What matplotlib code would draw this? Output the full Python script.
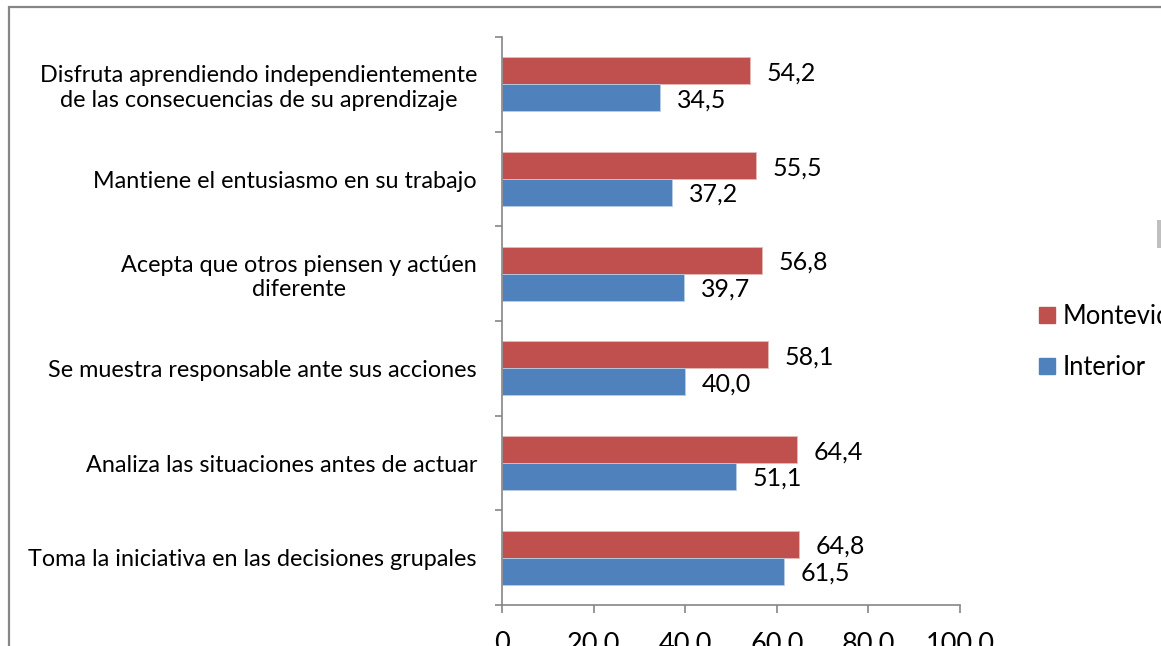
import numpy as np
import matplotlib.pyplot as plt
from matplotlib.patches import Rectangle, Patch

plt.rcParams['font.family'] = ['Lato', 'DejaVu Sans']

# categories top to bottom
categorias = [
    "Disfruta aprendiendo independientemente\nde las consecuencias de su aprendizaje",
    "Mantiene el entusiasmo en su trabajo",
    "Acepta que otros piensen y actúen\ndiferente",
    "Se muestra responsable ante sus acciones",
    "Analiza las situaciones antes de actuar",
    "Toma la iniciativa en las decisiones grupales",
]
montevideo = [54.2, 55.5, 56.8, 58.1, 64.4, 64.8]
interior = [34.5, 37.2, 39.7, 40.0, 51.1, 61.5]
xticks = [0, 20, 40, 60, 80, 100]
xtick_labels = ["0", "20,0", "40,0", "60,0", "80,0", "100,0"]

rojo = "#C0504D"
azul = "#4F81BD"
gris = "#868686"

fig = plt.figure(figsize=(11.61, 6.46), dpi=100)
ax = fig.add_axes([502 / 1161, 1 - 605 / 646, 458 / 1161, 568 / 646])

n = len(categorias)
y = np.arange(n)
h = 0.285
b1 = ax.barh(y - h / 2, montevideo, height=h, color=rojo, edgecolor="#E6B9B8", linewidth=0.6)
b2 = ax.barh(y + h / 2, interior, height=h, color=azul, edgecolor="#B9CDE5", linewidth=0.6)

def fmt(v):
    return f"{v:.1f}".replace(".", ",")

for bars, vals in ((b1, montevideo), (b2, interior)):
    for r, v in zip(bars, vals):
        ax.annotate(fmt(v), (v, r.get_y() + r.get_height() / 2),
                    xytext=(12, -1.5), textcoords="offset points",
                    ha="left", va="center", fontsize=18, color="black")

ax.set_xlim(0, 100)
ax.set_ylim(n - 0.5, -0.5)

ax.set_xticks(xticks)
ax.set_xticklabels(xtick_labels, fontsize=19.5)
ax.tick_params(axis="x", length=6, width=1.2, color=gris, pad=13)

ax.set_yticks(np.arange(n + 1) - 0.5)
ax.set_yticklabels([])
ax.tick_params(axis="y", which="major", length=5, width=1.2, color=gris)
ax.set_yticks(y, minor=True)
ax.set_yticklabels(categorias, minor=True, fontsize=16.8, multialignment="center")
ax.tick_params(axis="y", which="minor", length=0, pad=18)

for s in ("top", "right"):
    ax.spines[s].set_visible(False)
for s in ("left", "bottom"):
    ax.spines[s].set_color(gris)
    ax.spines[s].set_linewidth(1.2)

handles = [Patch(color=rojo), Patch(color=azul)]
fig.legend(handles, ["Montevideo", "Interior"], loc="center left",
           bbox_to_anchor=(1029 / 1161, 1 - 342 / 646), frameon=False,
           fontsize=18.4, handlelength=0.6, handleheight=0.6,
           handletextpad=0.3, labelspacing=1.0, borderaxespad=0)

# outer chart frame (cut by image edge)
fig.patches.append(Rectangle((8.5 / 1161, -0.2), 1.5, 1.2 - 6.5 / 646,
                             transform=fig.transFigure, fill=False,
                             edgecolor=gris, linewidth=1.6))
fig.patches.append(Rectangle((1157 / 1161, 1 - 248 / 646), 0.01, 28 / 646,
                             transform=fig.transFigure, color="#BFBFBF", lw=0))

fig.savefig("out.png", dpi=100)
